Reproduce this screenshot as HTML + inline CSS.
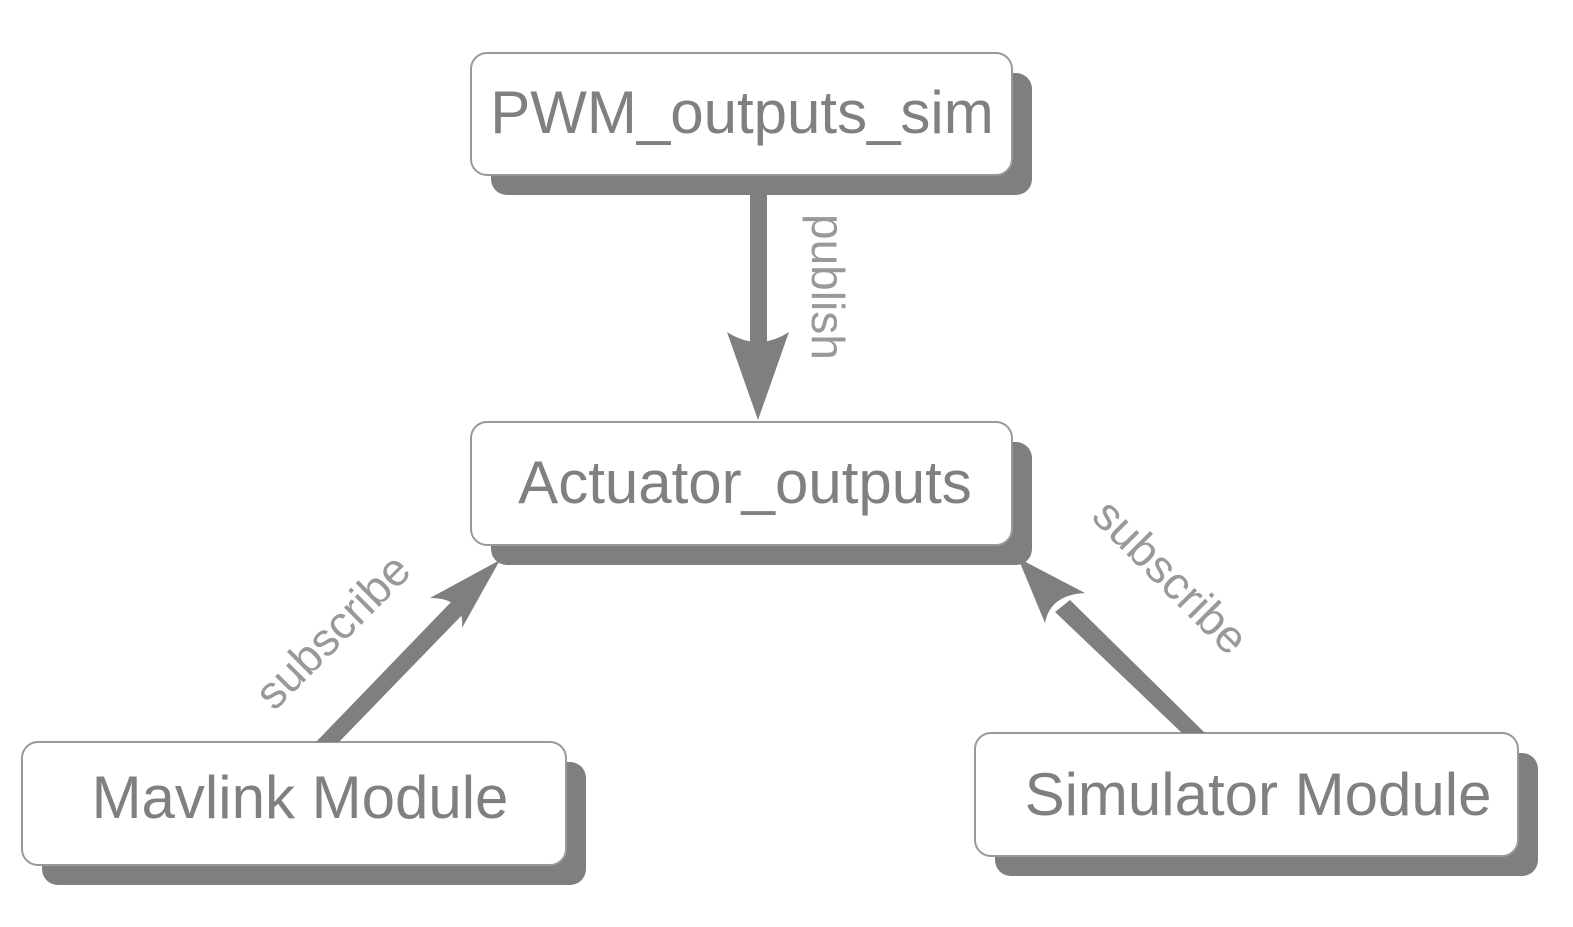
<!DOCTYPE html>
<html><head><meta charset="utf-8"><style>
body{margin:0;background:#fff;}
</style></head><body>
<svg width="1573" height="922" viewBox="0 0 1573 922" xmlns="http://www.w3.org/2000/svg" font-family="Liberation Sans, sans-serif">
<g fill="#7f7f7f">
<rect x="491" y="73" width="541" height="122" rx="16"/>
<rect x="491" y="442" width="541" height="123" rx="16"/>
<rect x="42" y="762" width="544" height="123" rx="16"/>
<rect x="995" y="753" width="543" height="123" rx="16"/>
</g>
<g fill="#fff" stroke="#999" stroke-width="2">
<rect x="471" y="53" width="541" height="122" rx="16"/>
<rect x="471" y="422" width="541" height="123" rx="16"/>
<rect x="22" y="742" width="544" height="123" rx="16"/>
<rect x="975" y="733" width="543" height="123" rx="16"/>
</g>
<g fill="#808080" font-size="60" text-anchor="middle">
<text x="742" y="133">PWM_outputs_sim</text>
<text x="745" y="503">Actuator_outputs</text>
<text x="300" y="818">Mavlink Module</text>
<text x="1258" y="815">Simulator Module</text>
</g>
<!-- arrows -->
<g fill="#7f7f7f">
<rect x="750" y="195" width="17" height="155"/>
<path d="M727 332 Q758 352 789 332 L758 420 Z"/>
<path d="M316 742 L339 742 L465 612 L453 600 Z"/>
<path d="M500 560 L430 598 Q465 598 462 628 Z"/>
<path d="M1182 733 L1205 733 L1070 600 L1055 612 Z"/>
<path d="M1018 558 L1085 593 Q1050 595 1045 623 Z"/>
</g>
<g fill="#999" font-size="46">
<text transform="translate(812,214) rotate(90)">publish</text>
<text transform="translate(274,712) rotate(-45)">subscribe</text>
<text transform="translate(1090,518) rotate(45)">subscribe</text>
</g>
</svg>
</body></html>
